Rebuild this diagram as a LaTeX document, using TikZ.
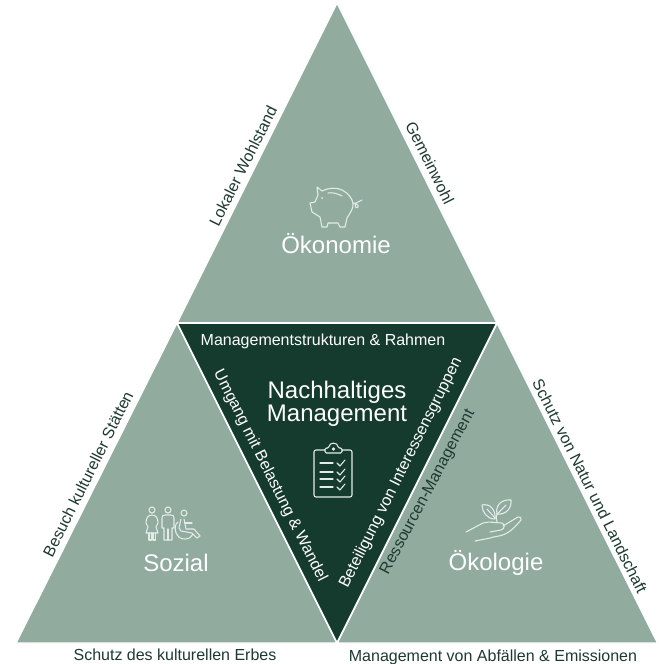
\documentclass[tikz,border=0pt]{standalone}
\usepackage{fontspec}
\setmainfont{Liberation Sans}
\definecolor{sage}{HTML}{91AC9F}
\definecolor{deep}{HTML}{153B2E}
\definecolor{ink}{HTML}{1E3A30}
\definecolor{icon}{HTML}{E4ECE8}
\tikzset{
  tri/.style={fill=sage,draw=white,line width=1pt,line join=miter},
  core/.style={fill=deep,draw=white,line width=1.2pt},
  outlab/.style={text=ink,font=\fontsize{12}{14}\selectfont,inner sep=0pt},
  inlab/.style={text=white,font=\fontsize{12}{14}\selectfont,inner sep=0pt},
  bighead/.style={text=white,font=\fontsize{18}{21}\selectfont,inner sep=0pt},
  ic/.style={draw=icon,line width=.8pt,line cap=round,line join=round,fill=none},
}
\begin{document}
\begin{tikzpicture}[x=0.75pt,y=-0.75pt]
\useasboundingbox (0,0) rectangle (658,664);
\fill[white] (0,0) rectangle (658,664);
\path[tri] (337,3) -- (497,323) -- (177,323) -- cycle;
\path[tri] (177,323) -- (337,643) -- (16,643) -- cycle;
\path[tri] (497,323) -- (657.5,643) -- (337,643) -- cycle;
\path[core] (177,323) -- (497,323) -- (337,643) -- cycle;
% headings
\node[bighead] (oek) at (336,244) {Ökonomie};
\node[bighead] (soz) at (176,563) {Sozial};
\node[bighead] (oeko) at (496,563) {Ökologie};
\node[text=white,font=\fontsize{18}{17.6}\selectfont,align=center,inner sep=0pt] (nm) at (337,404) {Nachhaltiges\\Management};
% outer labels
\node[outlab,rotate=63.4] (l1) at (243,166) {Lokaler Wohlstand};
\node[outlab,rotate=-63.4] (l2) at (430,163) {Gemeinwohl};
\node[outlab,rotate=63.4] (l3) at (88,474) {Besuch kultureller Stätten};
\node[outlab,rotate=-63.4] (l4) at (590,486) {Schutz von Natur und Landschaft};
\node[outlab] (l5) at (175,655) {Schutz des kulturellen Erbes};
\node[outlab] (l6) at (493,657) {Management von Abfällen \& Emissionen};
% inner labels
\node[inlab] (i1) at (323,341) {Managementstrukturen \& Rahmen};
\node[inlab,rotate=-63.4] (i2) at (270,476) {Umgang mit Belastung \& Wandel};
\node[inlab,rotate=63.4] (i4) at (401,473) {Beteiligung von Interessensgruppen};
\node[outlab,rotate=62] (i5) at (428,492) {Ressourcen-Management};
\begin{scope}[ic]
% piggy bank
\draw (317,187) -- (322,191) .. controls (328,188) and (336,187) .. (342,190) .. controls (348,193) and (352,198) .. (353,203) .. controls (354,208) and (350,213) .. (347,218) -- (345,227) -- (340,227) -- (338,223) -- (328,223) -- (327,227) -- (322,227) -- (320,217) -- (312,212) -- (310,203) -- (315,202) -- (318,195) -- cycle;
\draw (328,193) .. controls (333,192) and (338,194) .. (342,196);
\draw (353,203) .. controls (356,203) and (359,205) .. (358,207) .. controls (356,209) and (354,206) .. (356,203) -- (362,200);
\fill[icon,draw=none] (322,198) circle (1);
% clipboard
\draw[rounded corners=1.5] (325,450) -- (314,450) -- (314,497) -- (352,497) -- (352,450) -- (342,450);
\draw[rounded corners=1] (325,453) -- (325,448) -- (329,448) .. controls (329,442) and (338,442) .. (338,448) -- (342,448) -- (342,453) -- cycle;
\draw (333.5,449) circle (1.2);
\foreach \yy in {463,472,479,487} {
  \draw (320,\yy) -- (333,\yy);
  \draw (337,\yy) -- (340,\yy+3) -- (345,\yy-3);
}
% people
\draw (152,510) circle (3);
\draw (146,523) .. controls (146,518) and (148,515) .. (152,515) .. controls (156,515) and (158,518) .. (158,523) -- (156,527) -- (158,533) -- (146,533) -- (148,527) -- cycle;
\draw (149,533) -- (149,540) -- (151.5,540) -- (151.5,533) (153,533) -- (153,540) -- (155.5,540) -- (155.5,533);
\draw (168,510) circle (3);
\draw (162,528) -- (162,518) .. controls (162,516) and (163,515) .. (165,515) -- (171,515) .. controls (173,515) and (174,516) .. (174,518) -- (174,528) -- (172,528) -- (172,540) -- (164,540) -- (164,528) -- cycle;
\draw (168,529) -- (168,540);
\draw (184,513) circle (3);
\draw (184,519) -- (186,529) -- (194,529) -- (200,536);
\draw (181,519) -- (179,528) -- (181,531) -- (192,533) -- (197,538) -- (200,536);
\draw (178,522) .. controls (172,526) and (176,540) .. (185,539) .. controls (189,539) and (192,537) .. (193,534);
\draw (185,523) -- (192,523);
% hand and sprout
\draw (466,532) -- (483,523) .. controls (490,521) and (496,523) .. (502,523) .. controls (505,524) and (505,529) .. (501,530) -- (490,532);
\draw (503,526) -- (518,517) .. controls (520,516) and (522,518) .. (521,520) .. controls (516,526) and (511,531) .. (507,533) .. controls (500,537) and (495,536) .. (490,538) -- (475,541);
\draw (497,522) .. controls (496,517) and (496,515) .. (497,514);
\draw (495,519) .. controls (487,519) and (482,512) .. (482,505) .. controls (490,503) and (496,510) .. (495,519) -- cycle;
\draw (495,518) -- (487,509);
\draw (497,514) .. controls (495,505) and (502,499) .. (511,500) .. controls (512,508) and (506,515) .. (497,514) -- cycle;
\draw (497,514) -- (506,505);
\end{scope}
\end{tikzpicture}
\end{document}
